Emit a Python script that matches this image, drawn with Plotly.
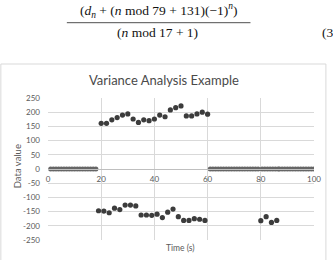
import plotly.graph_objects as go

# ---- data ----
upper_x = [20, 22, 24, 26, 28, 30, 32, 34, 36, 38, 40, 42, 44, 46, 48, 50, 52, 54, 56, 58, 60]
upper_y = [161, 161, 173, 181, 190, 194, 176, 164, 173, 170, 176, 190, 184, 208, 216, 222, 187, 187, 194, 200, 193]
lower_x = [19, 21, 23, 25, 27, 29, 31, 33, 35, 37, 39, 41, 43, 45, 47, 49, 51, 53, 55, 57, 59]
lower_y = [-147, -148, -154, -138, -143, -127, -127, -130, -162, -162, -163, -159, -171, -152, -141, -168, -181, -181, -175, -177, -181]
extra_x = [80, 82, 84, 86]
extra_y = [-182, -168, -188, -181]
zero_x = [1, 2, 3, 4, 5, 6, 7, 8, 9, 10, 11, 12, 13, 14, 15, 16, 17, 18,
          61, 62, 63, 64, 65, 66, 67, 68, 69, 70, 71, 72, 73, 74, 75, 76, 77, 78, 79,
          80.5, 81.5, 82.5, 83.5, 84.5, 85.5, 86.5,
          87, 88, 89, 90, 91, 92, 93, 94, 95, 96, 97, 98, 99, 100]
zero_y = [0] * len(zero_x)

x_ticks = [0, 20, 40, 60, 80, 100]
x_ticktext = ["0", "20", "40", "60", "80", "100"]
y_ticks = [250, 200, 150, 100, 50, 0, -50, -100, -150, -200, -250]
y_ticktext = ["250", "200", "150", "100", "50", "0", "-50", "-100", "-150", "-200", "-250"]

title_text = "Variance Analysis Example"
x_title = "Time (s)"
y_title = "Data value"

W, H = 333, 260
L, R, T, B = 48, 17, 98, 20
PW, PH = W - L - R, H - T - B

def px(x):
    return (x - L) / PW

def py(y):
    return (H - B - y) / PH

grey = "#595959"
dot = "#3c3c3c"

fig = go.Figure()
fig.add_trace(go.Scatter(x=zero_x, y=zero_y, mode="markers",
                         marker=dict(size=5, color="#666666"), showlegend=False))
fig.add_trace(go.Scatter(x=upper_x, y=upper_y, mode="markers",
                         marker=dict(size=5.2, color=dot), showlegend=False))
fig.add_trace(go.Scatter(x=lower_x, y=lower_y, mode="markers",
                         marker=dict(size=5.2, color=dot), showlegend=False))
fig.add_trace(go.Scatter(x=extra_x, y=extra_y, mode="markers",
                         marker=dict(size=5.2, color=dot), showlegend=False))

fig.update_layout(
    width=W, height=H,
    margin=dict(l=L, r=R, t=T, b=B),
    paper_bgcolor="white", plot_bgcolor="white",
    font=dict(family="Lato", color=grey, size=8),
    xaxis=dict(range=[0, 100], tickvals=x_ticks, ticktext=x_ticktext,
               showgrid=True, gridcolor="#d9d9d9", gridwidth=1,
               zeroline=False, showline=True, linecolor="#bfbfbf",
               anchor="free", position=0.5, ticks="",
               ticklabelstandoff=2, tickfont=dict(size=8, color=grey)),
    yaxis=dict(range=[-250, 250], tickvals=y_ticks, ticktext=y_ticktext,
               showgrid=True, gridcolor="#d9d9d9", gridwidth=1,
               zeroline=False, ticks="", ticklabelstandoff=7,
               tickfont=dict(size=8, color=grey)),
)

shapes = [
    dict(type="rect", xref="paper", yref="paper",
         x0=px(0.5), x1=px(328), y0=py(262), y1=py(64),
         line=dict(color="#d9d9d9", width=1), fillcolor="rgba(0,0,0,0)", layer="below"),
    dict(type="line", xref="paper", yref="paper",
         x0=px(67), x1=px(252), y0=py(22.7), y1=py(22.7),
         line=dict(color="#222222", width=0.8)),
]
fig.update_layout(shapes=shapes)

ann = [
    dict(text=title_text, x=px(165), y=py(80), xref="paper", yref="paper",
         showarrow=False, xanchor="center", yanchor="middle",
         font=dict(size=13, color="#4a4a4a", family="Lato")),
    dict(text=x_title, x=px(181), y=py(248), xref="paper", yref="paper",
         showarrow=False, xanchor="center", yanchor="middle",
         font=dict(size=8.5, color=grey, family="Lato")),
    dict(text=y_title, x=px(17), y=py(166), xref="paper", yref="paper",
         showarrow=False, xanchor="center", yanchor="middle", textangle=-90,
         font=dict(size=9.5, color=grey, family="Lato")),
    dict(text="(<i>d</i><sub><i>n</i></sub> + (<i>n</i> mod 79 + 131)(−1)<sup><i>n</i></sup>)",
         x=px(160), y=py(11), xref="paper", yref="paper",
         showarrow=False, xanchor="center", yanchor="middle",
         font=dict(size=13.5, color="#111111", family="Liberation Serif")),
    dict(text="(<i>n</i> mod 17 + 1)",
         x=px(158), y=py(32), xref="paper", yref="paper",
         showarrow=False, xanchor="center", yanchor="middle",
         font=dict(size=13.5, color="#111111", family="Liberation Serif")),
    dict(text="(3", x=px(322), y=py(32), xref="paper", yref="paper",
         showarrow=False, xanchor="left", yanchor="middle",
         font=dict(size=13.5, color="#111111", family="Liberation Serif")),
]
fig.update_layout(annotations=ann)

fig.write_html("out.html")
